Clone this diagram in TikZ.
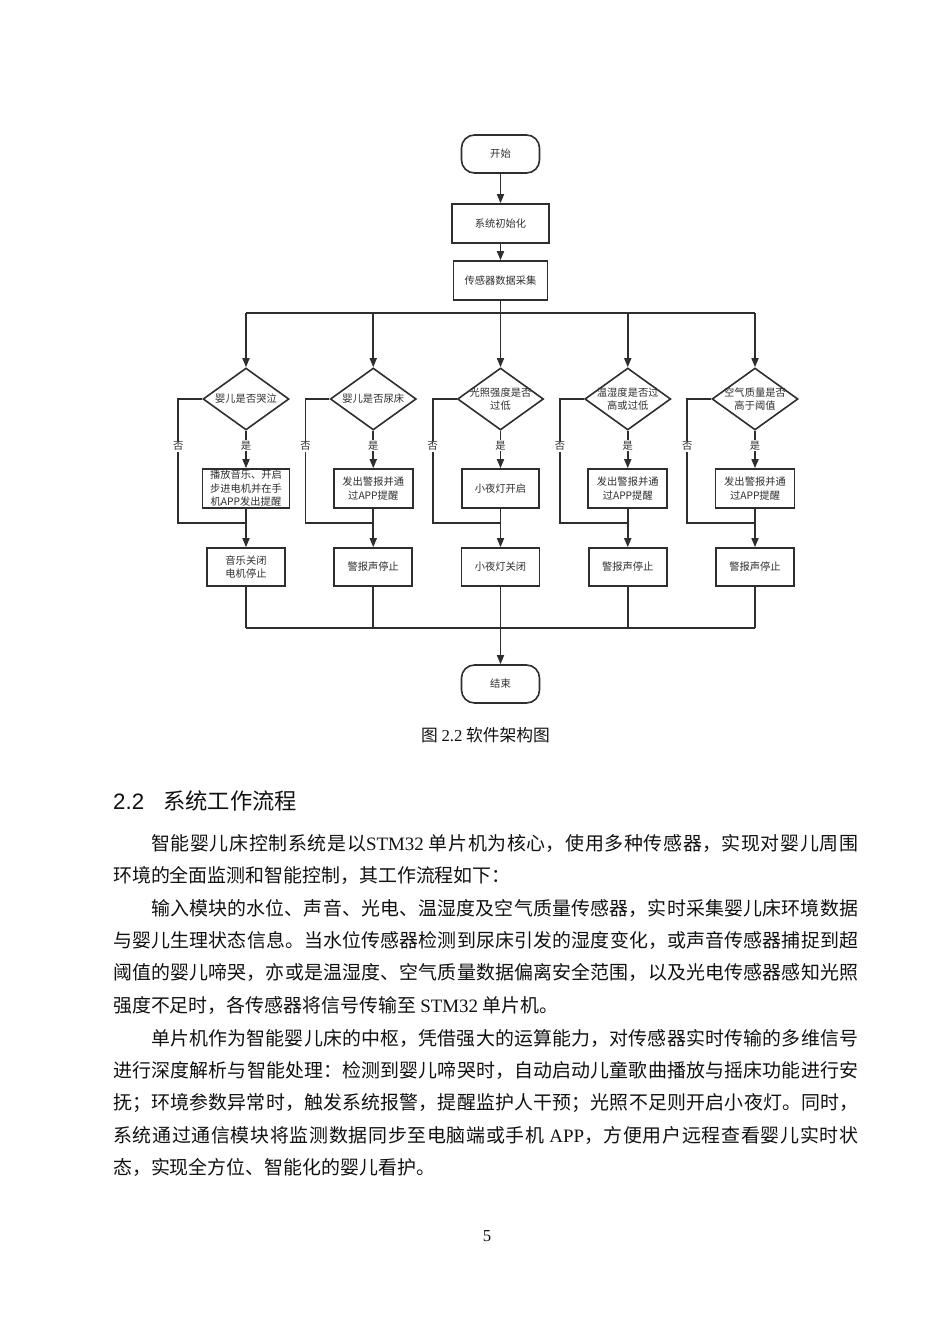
\documentclass[tikz,border=0pt]{standalone}
\usepackage{fontspec}
\setmainfont{Noto Sans CJK SC}
\newfontfamily\latinserif{Liberation Serif}
\newfontfamily\latinsans{Liberation Sans}
\usetikzlibrary{shapes.geometric,arrows.meta}
\XeTeXlinebreaklocale "zh"
\XeTeXlinebreakskip = 0pt plus 2pt
\newcommand{\ltn}[1]{{\latinserif #1}}
\definecolor{ink}{HTML}{2E2E2E}
\definecolor{bodytext}{HTML}{111111}
\tikzset{
  line/.style={draw=ink, line width=1.6bp},
  arr/.style={line, -{Triangle[length=9bp,width=7bp]}},
  chart/.style={text=ink, font=\fontsize{10.3}{13.5}\selectfont},
  term/.style={chart, draw=ink, line width=1.6bp, rounded corners=13bp, minimum width=78bp, minimum height=38bp},
  box/.style={chart, draw=ink, line width=1.6bp, minimum width=79bp, minimum height=39bp, inner sep=1bp, align=center},
  dec/.style={diamond, draw=ink, line width=1.6bp, minimum width=86bp, minimum height=62bp, inner sep=0pt},
  dectxt/.style={chart, align=center, inner sep=0pt},
  yn/.style={chart, fill=white, inner sep=1bp},
  para/.style={text=bodytext, text width=745bp, align=justify, inner sep=0pt, anchor=base west, font=\fontsize{19}{32.5}\selectfont}
}
\begin{document}
\begin{tikzpicture}[x=1bp, y=-1bp]
\useasboundingbox (0,0) rectangle (950,1344);
% main line
\node[term] (start) at (500.5,154) {开始};
\node[box, minimum width=97bp] (init) at (500.5,223.5) {系统初始化};
\node[box, minimum width=94bp] (collect) at (500.5,280.5) {传感器数据采集};
\draw[arr] (start) -- (init);
\draw[arr] (init) -- (collect);

% checks
\node[dec] (d1) at (246,399) {};
\node[dec] (d2) at (373.25,399) {};
\node[dec] (d3) at (500.5,399) {};
\node[dec] (d4) at (627.75,399) {};
\node[dec] (d5) at (755,399) {};
\node[dectxt] (q1) at (d1) {婴儿是否哭泣};
\node[dectxt] (q2) at (d2) {婴儿是否尿床};
\node[dectxt] (q3) at (d3) {光照强度是否\\过低};
\node[dectxt] (q4) at (d4) {温湿度是否过\\高或过低};
\node[dectxt] (q5) at (d5) {空气质量是否\\高于阈值};

% actions
\node[box, minimum width=87bp] (a1) at (246,488.5) {播放音乐、开启\\步进电机并在手\\机APP发出提醒};
\node[box] (a2) at (373.25,488.5) {发出警报并通\\过APP提醒};
\node[box, minimum width=77bp] (a3) at (500.5,488.5) {小夜灯开启};
\node[box] (a4) at (627.75,488.5) {发出警报并通\\过APP提醒};
\node[box] (a5) at (755,488.5) {发出警报并通\\过APP提醒};

% stops
\node[box, minimum width=78bp, minimum height=38bp] (s1) at (246,567) {音乐关闭\\电机停止};
\node[box, minimum width=78bp, minimum height=38bp] (s2) at (373.25,567) {警报声停止};
\node[box, minimum width=78bp, minimum height=38bp] (s3) at (500.5,567) {小夜灯关闭};
\node[box, minimum width=78bp, minimum height=38bp] (s4) at (627.75,567) {警报声停止};
\node[box, minimum width=78bp, minimum height=38bp] (s5) at (755,567) {警报声停止};
\node[term] (end) at (500.5,684) {结束};

% branches
\foreach \i in {1,...,5} {
  \coordinate (top\i) at (d\i |- 0,313);
  \coordinate (bot\i) at (d\i |- 0,628);
  \coordinate (j\i) at (d\i |- 0,523);
  \draw[arr] (top\i) -- (d\i);
  \draw[arr] (d\i) -- node[yn, pos=0.4] (yes\i) {是} (a\i);
  \draw[line] (d\i.west) -- ++(-24,0) |- node[yn, pos=0.19] (no\i) {否} (j\i);
  \draw[arr] (a\i) -- (s\i);
  \draw[line] (s\i) -- (bot\i);
}
\draw[line] (collect) -- (top3);
\draw[line] (top1) -- (top5);
\draw[line] (bot1) -- (bot5);
\draw[arr] (bot3) -- (end);

% caption and text
\node[text=bodytext, font=\fontsize{16.8}{20}\selectfont] (caption) at (485.5,735) {图 \ltn{2.2} 软件架构图};
\node[text=bodytext, anchor=base west, inner sep=0pt, font=\fontsize{22.4}{26}\selectfont] (secnum) at (113,809.5) {\latinsans 2.2};
\node[text=bodytext, anchor=base west, inner sep=0pt, font=\fontsize{22.4}{26}\selectfont] (sectitle) at (163,809.5) {系统工作流程};
\node[para] (p1) at (113,850) {\hspace*{2em}智能婴儿床控制系统是以\ltn{STM32} 单片机为核心，使用多种传感器，实现对婴儿周围\linebreak 环境的全面监测和智能控制，其工作流程如下：};
\node[para] (p2) at (113,915) {\hspace*{2em}输入模块的水位、声音、光电、温湿度及空气质量传感器，实时采集婴儿床环境数据\linebreak 与婴儿生理状态信息。当水位传感器检测到尿床引发的湿度变化，或声音传感器捕捉到超\linebreak 阈值的婴儿啼哭，亦或是温湿度、空气质量数据偏离安全范围，以及光电传感器感知光照\linebreak 强度不足时，各传感器将信号传输至 \ltn{STM32} 单片机。};
\node[para] (p3) at (113,1045) {\hspace*{2em}单片机作为智能婴儿床的中枢，凭借强大的运算能力，对传感器实时传输的多维信号\linebreak 进行深度解析与智能处理：检测到婴儿啼哭时，自动启动儿童歌曲播放与摇床功能进行安\linebreak 抚；环境参数异常时，触发系统报警，提醒监护人干预；光照不足则开启小夜灯。同时，\linebreak 系统通过通信模块将监测数据同步至电脑端或手机 \ltn{APP}，方便用户远程查看婴儿实时状\linebreak 态，实现全方位、智能化的婴儿看护。};
\node[text=bodytext, font=\fontsize{16.8}{20}\selectfont] (pagenum) at (487,1236) {\latinserif 5};
\end{tikzpicture}
\end{document}
